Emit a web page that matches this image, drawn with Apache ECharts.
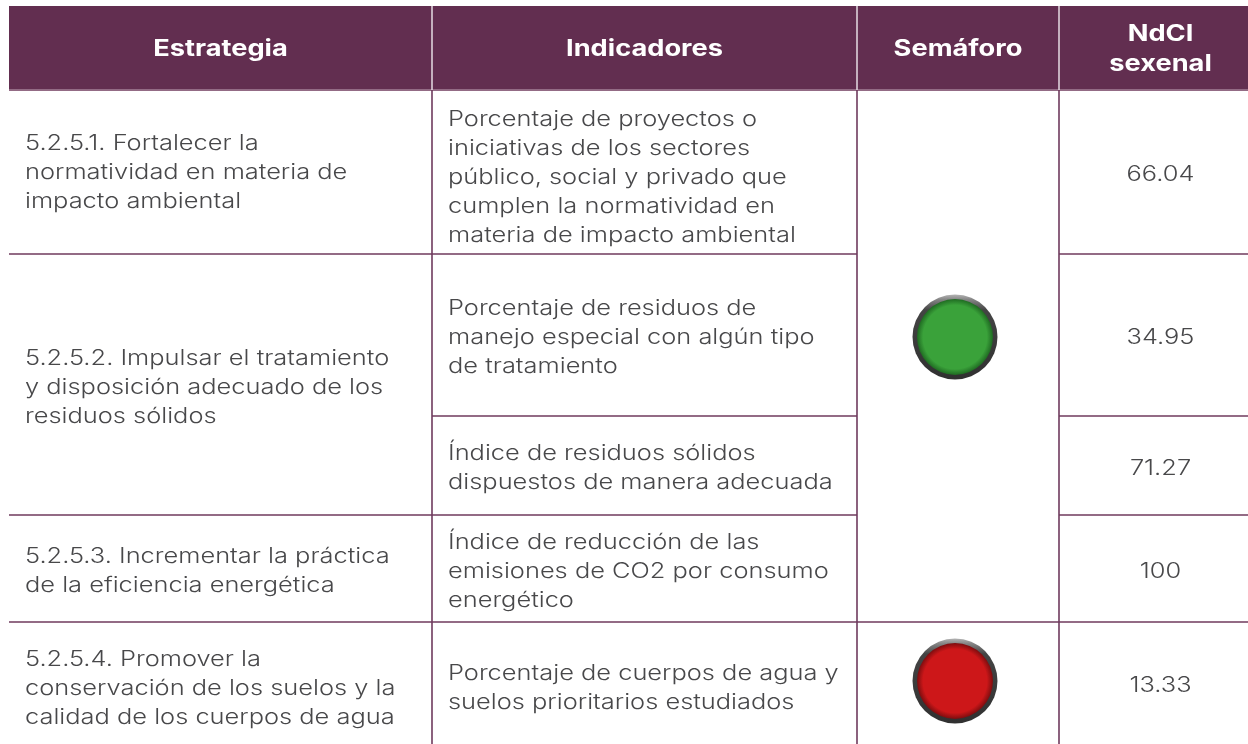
<!DOCTYPE html>
<html>
<head>
<meta charset="utf-8">
<style>
  html, body { margin: 0; padding: 0; background: #fff; }
  #main { width: 1248px; height: 744px; }
</style>
<script src="https://cdn.jsdelivr.net/npm/echarts@6/dist/echarts.min.js"></script>
</head>
<body>
<div id="main"></div>
<script>
// contenido de la tabla
const headers = ['Estrategia', 'Indicadores', 'Semáforo', 'NdCI\nsexenal']
const estrategias = [
  '5.2.5.1. Fortalecer la\nnormatividad en materia de\nimpacto ambiental',
  '5.2.5.2. Impulsar el tratamiento\ny disposición adecuado de los\nresiduos sólidos',
  '5.2.5.3. Incrementar la práctica\nde la eficiencia energética',
  '5.2.5.4. Promover la\nconservación de los suelos y la\ncalidad de los cuerpos de agua'
]
const indicadores = [
  'Porcentaje de proyectos o\niniciativas de los sectores\npúblico, social y privado que\ncumplen la normatividad en\nmateria de impacto ambiental',
  'Porcentaje de residuos de\nmanejo especial con algún tipo\nde tratamiento',
  'Índice de residuos sólidos\ndispuestos de manera adecuada',
  'Índice de reducción de las\nemisiones de CO2 por consumo\nenergético',
  'Porcentaje de cuerpos de agua y\nsuelos prioritarios estudiados'
]
const ndci = [66.04, 34.95, 71.27, 100, 13.33]
const semaforoVerde = ['#3aa23a', '#1f6a22']
const semaforoRojo = ['#cd1719', '#7c0d0f']

// rejilla de la tabla, en pixeles de la pagina
const colEdges = [9, 432, 857, 1059, 1248]
const rowEdges = [6, 90, 254, 416, 515, 622, 744]
// filas que ocupa cada estrategia y cada semaforo
const estrategiaSpan = [[1, 2], [2, 4], [4, 5], [5, 6]]
const semaforoSpan = [[1, 5], [5, 6]]
const estrategiaNudge = [1, 3, 3, 6]
const indicadorNudge = [6, 3, 3, 3, 5]
const headerNudge = [0, 0, 0, 7]

const FONT = 'Inter, "Noto Sans", sans-serif'
const TEXT_COLOR = '#48484a'
const PLUM = '#622e50'
// la fuente original es mas ancha que Inter
const WIDEN = 1.21

const box = (c0, c1, r0, r1, i) => [colEdges[c0], rowEdges[r0], colEdges[c1], rowEdges[r1], i]

const headerData = headers.map((h, i) => box(i, i + 1, 0, 1, i))
const estrategiaData = estrategias.map((t, i) => box(0, 1, estrategiaSpan[i][0], estrategiaSpan[i][1], i))
const indicadorData = indicadores.map((t, i) => box(1, 2, i + 1, i + 2, i))
const ndciData = ndci.map((v, i) => box(3, 4, i + 1, i + 2, i))
const semaforoData = semaforoSpan.map((s, i) => box(2, 3, s[0], s[1], i))

const corners = api => {
  const a = api.coord([api.value(0), api.value(1)])
  const b = api.coord([api.value(2), api.value(3)])
  return { x0: a[0], y0: a[1], x1: b[0], y1: b[1] }
}

const wideText = (x, y, text, fill, font, lineHeight, align) => ({
  type: 'text',
  x: x,
  y: y,
  scaleX: WIDEN,
  style: { x: 0, y: 0, text: text, fill: fill, font: font, lineHeight: lineHeight, align: align, verticalAlign: 'middle' }
})

const headerItem = (params, api) => {
  const c = corners(api)
  const i = api.value(4)
  return {
    type: 'group',
    children: [
      { type: 'rect', shape: { x: c.x0, y: c.y0, width: c.x1 - c.x0, height: c.y1 - c.y0 }, style: { fill: PLUM } },
      wideText((c.x0 + c.x1) / 2 + headerNudge[i], (c.y0 + c.y1) / 2 + 1, headers[i], '#fff', '700 22.5px ' + FONT, 30, 'center')
    ]
  }
}

const leftText = (texts, nudges, pad) => (params, api) => {
  const c = corners(api)
  const i = api.value(4)
  return wideText(c.x0 + pad, (c.y0 + c.y1) / 2 + nudges[i], texts[i], TEXT_COLOR, '300 21px ' + FONT, 29, 'left')
}

const ndciItem = (params, api) => {
  const c = corners(api)
  const i = api.value(4)
  return wideText((c.x0 + c.x1) / 2 + 7, (c.y0 + c.y1) / 2 + 3, String(ndci[i]), TEXT_COLOR, '300 21px ' + FONT, 29, 'center')
}

// el boton del semaforo: aro oscuro con brillo arriba y centro sombreado
const semaforoItem = (params, api) => {
  const c = corners(api)
  const i = api.value(4)
  const tones = i === 0 ? semaforoVerde : semaforoRojo
  const cx = (c.x0 + c.x1) / 2 - 3
  const cy = i === 0 ? (c.y0 + c.y1) / 2 - 19 : (c.y0 + c.y1) / 2 - 2
  return {
    type: 'group',
    children: [
      {
        type: 'circle',
        shape: { cx: cx, cy: cy, r: 42.5 },
        style: {
          fill: {
            type: 'linear', x: 0, y: 0, x2: 0, y2: 1,
            colorStops: [
              { offset: 0, color: '#b4b4b4' },
              { offset: 0.06, color: '#858585' },
              { offset: 0.18, color: '#444444' },
              { offset: 0.55, color: '#3b3b3b' },
              { offset: 1, color: '#303030' }
            ]
          }
        }
      },
      {
        type: 'circle',
        shape: { cx: cx, cy: cy, r: 38 },
        style: {
          fill: {
            type: 'radial', x: 0.5, y: 0.5, r: 0.5,
            colorStops: [
              { offset: 0, color: tones[0] },
              { offset: 0.84, color: tones[0] },
              { offset: 1, color: tones[1] }
            ]
          }
        }
      }
    ]
  }
}

const lineItem = (color, width) => (params, api) => {
  const c = corners(api)
  return {
    type: 'line',
    shape: { x1: c.x0, y1: c.y0, x2: c.x1, y2: c.y1 },
    style: { stroke: color, lineWidth: width }
  }
}

// separadores
const vLines = colEdges.slice(1, 4).map(x => [x, rowEdges[1], x, rowEdges[6]])
const headerLines = colEdges.slice(1, 4).map(x => [x, rowEdges[0], x, rowEdges[1]])
const hLines = [
  [colEdges[0], rowEdges[1], colEdges[4], rowEdges[1]],
  [colEdges[0], rowEdges[2], colEdges[2], rowEdges[2]],
  [colEdges[3], rowEdges[2], colEdges[4], rowEdges[2]],
  [colEdges[1], rowEdges[3], colEdges[2], rowEdges[3]],
  [colEdges[3], rowEdges[3], colEdges[4], rowEdges[3]],
  [colEdges[0], rowEdges[4], colEdges[2], rowEdges[4]],
  [colEdges[3], rowEdges[4], colEdges[4], rowEdges[4]],
  [colEdges[0], rowEdges[5], colEdges[4], rowEdges[5]]
]

const customSeries = (data, renderItem) => ({
  type: 'custom',
  coordinateSystem: 'cartesian2d',
  silent: true,
  clip: false,
  encode: { x: [0, 2], y: [1, 3] },
  data: data,
  renderItem: renderItem
})

const chart = echarts.init(document.getElementById('main'), null, { renderer: 'canvas' })
chart.setOption({
  animation: false,
  backgroundColor: '#fff',
  grid: { left: 0, right: 0, top: 0, bottom: 0 },
  xAxis: { type: 'value', min: 0, max: 1248, show: false },
  yAxis: { type: 'value', min: 0, max: 744, inverse: true, show: false },
  series: [
    customSeries(headerData, headerItem),
    customSeries(hLines, lineItem('#936b85', 2)),
    customSeries(vLines, lineItem('#6f3a5d', 1.6)),
    customSeries(headerLines, lineItem('#e6dce3', 1.5)),
    customSeries(estrategiaData, leftText(estrategias, estrategiaNudge, 16)),
    customSeries(indicadorData, leftText(indicadores, indicadorNudge, 16)),
    customSeries(ndciData, ndciItem),
    customSeries(semaforoData, semaforoItem)
  ]
})
</script>
</body>
</html>
